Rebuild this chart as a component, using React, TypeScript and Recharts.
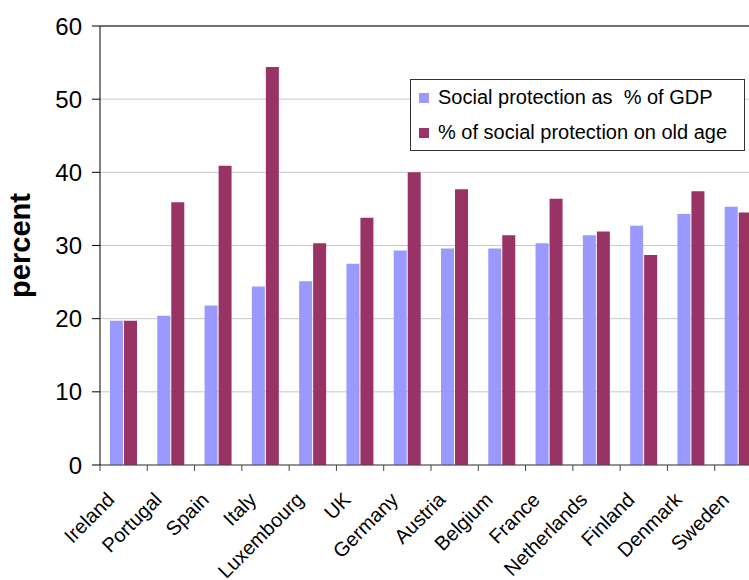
import { Bar, BarChart, CartesianGrid, Legend, ReferenceLine, XAxis, YAxis } from "recharts";

const COUNTRIES = [
  "Ireland", "Portugal", "Spain", "Italy", "Luxembourg", "UK", "Germany",
  "Austria", "Belgium", "France", "Netherlands", "Finland", "Denmark", "Sweden",
];
const GDP_SHARE = [19.7, 20.4, 21.8, 24.4, 25.1, 27.5, 29.3, 29.6, 29.6, 30.3, 31.4, 32.7, 34.3, 35.3];
const OLD_AGE_SHARE = [19.7, 35.9, 40.9, 54.4, 30.3, 33.8, 40.0, 37.7, 31.4, 36.4, 31.9, 28.7, 37.4, 34.5];
const Y_TICKS = [0, 10, 20, 30, 40, 50, 60];

const SERIES = [
  { key: "gdp", name: "Social protection as  % of GDP", color: "#9999ff" },
  { key: "oldAge", name: "% of social protection on old age", color: "#993366" },
];

const FONT = "'Liberation Sans', Arial, sans-serif";

const rows = COUNTRIES.map((c, i) => ({ country: c, gdp: GDP_SHARE[i], oldAge: OLD_AGE_SHARE[i] }));

// category label, rotated, plus a tick mark on the left edge of the band
function CountryTick(props: any) {
  const { x, y, payload } = props;
  const half = payload.offset ?? 23.65;
  const lx = x - 8;
  const ly = y + 36;
  return (
    <g>
      <line x1={x - half} x2={x - half} y1={y} y2={y + 6} stroke="#444" />
      <text
        x={lx}
        y={ly}
        textAnchor="end"
        fontSize={20}
        fontFamily={FONT}
        fill="#000"
        transform={`rotate(-45, ${lx}, ${ly})`}
      >
        {payload.value}
      </text>
    </g>
  );
}

function LegendBox() {
  return (
    <div
      style={{
        border: "1px solid #333",
        background: "#fff",
        padding: "0 0 0 8px",
        boxSizing: "border-box",
        width: 335,
        height: 72,
        fontFamily: FONT,
        fontSize: 20,
        color: "#000",
      }}
    >
      {SERIES.map((s) => (
        <div key={s.key} style={{ display: "flex", alignItems: "center", height: 35 }}>
          <span style={{ width: 10, height: 10, background: s.color, marginRight: 9, flexShrink: 0 }} />
          <span style={{ whiteSpace: "pre" }}>{s.name}</span>
        </div>
      ))}
    </div>
  );
}

export default function App() {
  return (
    <div style={{ position: "absolute", left: 0, top: 0, width: 749, height: 580, overflow: "hidden", background: "#fff" }}>
      <BarChart
        width={770}
        height={580}
        data={rows}
        margin={{ top: 26, right: 8, bottom: 0, left: 0 }}
        barCategoryGap={10}
        barGap={1}
      >
        <CartesianGrid vertical={false} stroke="#c8c8c8" />
        <XAxis
          dataKey="country"
          height={115}
          interval={0}
          tickSize={0}
          tickMargin={0}
          tickLine={false}
          axisLine={{ stroke: "#444" }}
          tick={<CountryTick />}
        />
        <YAxis
          width={100}
          domain={[0, 60]}
          ticks={Y_TICKS}
          tickSize={8}
          tickMargin={10}
          axisLine={{ stroke: "#000" }}
          tickLine={{ stroke: "#000" }}
          tick={{ fontSize: 24, fontFamily: FONT, fill: "#000" }}
          label={({ viewBox }: any) => {
            const cx = 30;
            const cy = viewBox.y + viewBox.height / 2;
            return (
              <text
                x={cx}
                y={cy}
                textAnchor="middle"
                fontSize={29}
                fontWeight="bold"
                fontFamily={FONT}
                fill="#000"
                transform={`rotate(-90, ${cx}, ${cy})`}
              >
                percent
              </text>
            );
          }}
        />
        <ReferenceLine y={60} stroke="#000" />
        {SERIES.map((s) => (
          <Bar key={s.key} dataKey={s.key} name={s.name} fill={s.color} isAnimationActive={false} />
        ))}
        <Legend
          layout="vertical"
          align="center"
          verticalAlign="middle"
          content={() => <LegendBox />}
          wrapperStyle={{ left: 410, top: 79, width: 335, height: 72 }}
        />
      </BarChart>
    </div>
  );
}
